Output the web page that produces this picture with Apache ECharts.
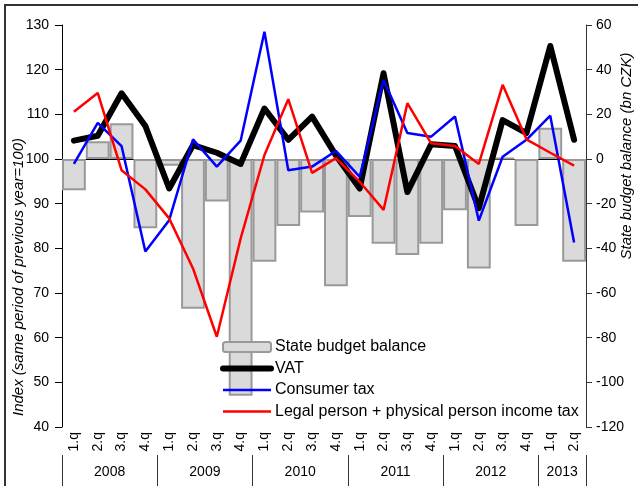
<!DOCTYPE html>
<html lang="en">
<head>
    <meta charset="UTF-8">
    <style>
        html, body { margin: 0; padding: 0; background: #fff; }
        #main { width: 638px; height: 486px; }
    </style>
    <title>Tax revenues and state budget balance</title>
</head>
<body>
    <div id="main"></div>
    <script src="https://cdn.jsdelivr.net/npm/echarts@6/dist/echarts.min.js"></script>
    <script>
        var quarters = ['1.q', '2.q', '3.q', '4.q', '1.q', '2.q', '3.q', '4.q', '1.q', '2.q', '3.q', '4.q',
            '1.q', '2.q', '3.q', '4.q', '1.q', '2.q', '3.q', '4.q', '1.q', '2.q'];
        var years = ['2008', '2009', '2010', '2011', '2012', '2013'];
        var quartersPerYear = [4, 4, 4, 4, 4, 2];

        // bn CZK, right axis
        var budgetBalance = [-14, 8, 16, -31, -3, -67, -19, -106, -46, -30, -24, -57,
            -26, -38, -43, -38, -23, -49, 0.5, -30, 14, -46];
        // index, left axis
        var vat = [104.1, 105.2, 114.7, 107.4, 93.4, 103.1, 101.4, 98.9, 111.3, 104.3, 109.5, 100.8,
            93.4, 119.2, 92.6, 103.3, 102.9, 89, 108.7, 105.8, 125.3, 104.3];
        var consumerTax = [98.9, 108.1, 102.9, 79.3, 86.3, 104.4, 98.3, 104.1, 128.5, 97.5, 98.3, 101.8,
            96, 117.7, 105.8, 105, 109.5, 86.2, 100.5, 104.3, 109.7, 81.3];
        var incomeTax = [110.6, 114.8, 97.5, 93.2, 86.7, 75.5, 60.2, 82.2, 100.9, 113.4, 96.9, 100.2,
            94.9, 88.6, 112.5, 103.5, 102.9, 98.9, 116.6, 104.4, 101.4, 98.5];

        var leftTicks = { min: 40, max: 130, interval: 10 };
        var rightTicks = { min: -120, max: 60, interval: 20 };

        // year axis: half-quarter slots, label at the middle of each year, ticks at year edges
        var yearSlots = [];
        var yearEdges = {};
        for (var i = 0; i <= quarters.length * 2; i++) yearSlots.push('');
        var pos = 0;
        yearEdges[0] = true;
        years.forEach(function (y, k) {
            yearSlots[pos + quartersPerYear[k]] = y;
            pos += quartersPerYear[k] * 2;
            yearEdges[pos] = true;
        });

        var font = '"Liberation Sans", Arial, sans-serif';

        var option = {
            backgroundColor: '#fff',
            animation: false,
            textStyle: { fontFamily: font },
            grid: {
                left: 62,
                right: 52,
                top: 25,
                bottom: 59,
                containLabel: false
            },
            legend: {
                orient: 'vertical',
                left: 215,
                top: 334,
                itemWidth: 48,
                itemHeight: 10,
                itemGap: 5.5,
                data: [
                    { name: 'State budget balance' },
                    { name: 'VAT', itemStyle: { opacity: 0 }, lineStyle: { width: 6 } },
                    { name: 'Consumer tax', itemStyle: { opacity: 0 }, lineStyle: { width: 2.5 } },
                    { name: 'Legal person + physical person income tax', itemStyle: { opacity: 0 }, lineStyle: { width: 2.5 } }
                ],
                textStyle: {
                    fontFamily: font,
                    fontSize: 16,
                    color: '#000',
                    padding: [0, 0, 0, -1]
                }
            },
            graphic: [{
                type: 'rect',
                shape: { x: 5, y: 5, width: 700, height: 700 },
                style: { fill: 'none', stroke: '#333', lineWidth: 2 },
                silent: true
            }, {
                type: 'text',
                x: 19,
                y: 277,
                rotation: Math.PI / 2,
                style: {
                    text: 'Index (same period of previous year=100)',
                    font: 'italic 15px ' + font,
                    fill: '#000',
                    align: 'center',
                    verticalAlign: 'middle'
                }
            }, {
                type: 'text',
                x: 627,
                y: 156,
                rotation: Math.PI / 2,
                style: {
                    text: 'State budget balance (bn CZK)',
                    font: 'italic 15px ' + font,
                    fill: '#000',
                    align: 'center',
                    verticalAlign: 'middle'
                }
            }],
            xAxis: [{
                type: 'category',
                data: quarters,
                position: 'bottom',
                axisLine: { lineStyle: { color: '#000', width: 1 } },
                axisTick: { length: 28, lineStyle: { color: '#888' } },
                axisLabel: {
                    interval: 0,
                    rotate: 90,
                    margin: 5,
                    fontSize: 14,
                    color: '#000',
                    fontFamily: font
                }
            }, {
                type: 'category',
                data: yearSlots,
                boundaryGap: false,
                position: 'bottom',
                offset: 28,
                axisLine: { show: false },
                axisTick: {
                    show: true,
                    length: 31,
                    interval: function (idx) { return !!yearEdges[idx]; },
                    lineStyle: { color: '#333' }
                },
                axisLabel: {
                    interval: function (idx, val) { return val !== ''; },
                    margin: 10,
                    fontSize: 14,
                    color: '#000',
                    fontFamily: font
                }
            }],
            yAxis: [{
                type: 'value',
                min: leftTicks.min,
                max: leftTicks.max,
                interval: leftTicks.interval,
                position: 'left',
                splitLine: { show: false },
                axisLine: { show: true, lineStyle: { color: '#000' } },
                axisTick: { show: true, length: 7, lineStyle: { color: '#000' } },
                axisLabel: { margin: 13, fontSize: 14, color: '#000', fontFamily: font }
            }, {
                type: 'value',
                min: rightTicks.min,
                max: rightTicks.max,
                interval: rightTicks.interval,
                position: 'right',
                splitLine: { show: false },
                axisLine: { show: true, lineStyle: { color: '#333' } },
                axisTick: { show: true, length: 6, lineStyle: { color: '#333' } },
                axisLabel: { margin: 10, fontSize: 14, color: '#000', fontFamily: font }
            }],
            series: [{
                name: 'State budget balance',
                type: 'bar',
                yAxisIndex: 1,
                barCategoryGap: '0%',
                data: budgetBalance,
                itemStyle: {
                    color: '#dadada',
                    borderColor: '#999',
                    borderWidth: 2
                }
            }, {
                name: 'VAT',
                type: 'line',
                yAxisIndex: 0,
                symbol: 'none',
                data: vat,
                color: '#000',
                lineStyle: { width: 6, color: '#000', join: 'round', cap: 'round' }
            }, {
                name: 'Consumer tax',
                type: 'line',
                yAxisIndex: 0,
                symbol: 'none',
                data: consumerTax,
                color: '#0000ff',
                lineStyle: { width: 2.5, color: '#0000ff' }
            }, {
                name: 'Legal person + physical person income tax',
                type: 'line',
                yAxisIndex: 0,
                symbol: 'none',
                data: incomeTax,
                color: '#ff0000',
                lineStyle: { width: 2.5, color: '#ff0000' }
            }]
        };

        var myChart = echarts.init(document.getElementById('main'));
        myChart.setOption(option);
    </script>
</body>
</html>
